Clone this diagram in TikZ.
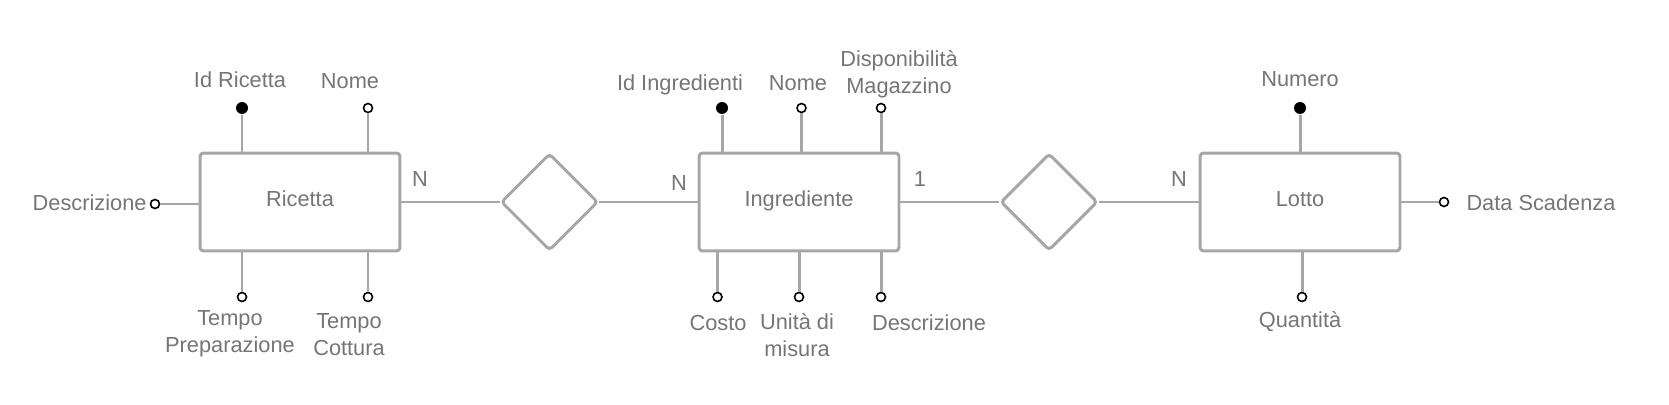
\documentclass[tikz,border=0pt]{standalone}
\usepackage{fontspec}
\setmainfont{Liberation Sans}
\usetikzlibrary{shapes.geometric}
\definecolor{linegray}{RGB}{166,166,166}
\definecolor{textgray}{RGB}{117,117,117}

\begin{document}
\begin{tikzpicture}[x=0.02cm, y=-0.02cm, line width=1.7pt,
  every edge/.style={draw=linegray, line width=1.7pt},
  entity/.style={draw=linegray, line width=1.7pt, rounded corners=2pt, minimum width=4cm, minimum height=1.96cm, text=textgray, text height=8.9pt, text depth=3.4pt, font=\fontsize{12.4}{15.3}\selectfont},
  relation/.style={draw=linegray, line width=1.7pt, diamond, aspect=1, minimum size=1.94cm, inner sep=0pt, rounded corners=2pt},
  key/.style={circle, fill=black, minimum size=0.24cm, inner sep=0pt},
  attr/.style={circle, draw=black, fill=white, line width=0.9pt, minimum size=0.18cm, inner sep=0pt},
  lbl/.style={text=textgray, align=center, inner sep=0pt, font=\fontsize{12.4}{15.3}\selectfont}]
  \useasboundingbox (0,0) rectangle (1669,405);
  \node[entity]   (ricetta) at (300,202) {Ricetta};
  \node[relation] (r1) at (549.5,202) {};
  \node[entity]   (ingrediente) at (799,202) {Ingrediente};
  \node[relation] (r2) at (1049,202) {};
  \node[entity]   (lotto) at (1300,202) {Lotto};
  \path[line width=1.7pt] (ricetta) edge (r1)
        (r1) edge (ingrediente)
        (ingrediente) edge (r2)
        (r2) edge (lotto);
  \node[lbl] (n1) at (420,179) {N};
  \node[lbl] (n2) at (679,183) {N};
  \node[lbl] (n3) at (920,179) {1};
  \node[lbl] (n4) at (1179,179) {N};

  \node[key]  (idr) at (242,108) {};
  \node[attr] (nomer) at (368,108) {};
  \node[attr] (descr) at (155,204) {};
  \node[attr] (tprep) at (242,297) {};
  \node[attr] (tcott) at (368,297) {};
  \path[line width=1.7pt] (idr) edge (idr |- ricetta.north)
        (nomer) edge (nomer |- ricetta.north)
        (descr) edge (descr -| ricetta.west)
        (tprep) edge (tprep |- ricetta.south)
        (tcott) edge (tcott |- ricetta.south);
  \node[lbl] (lidr) at (240,80) {Id Ricetta};
  \node[lbl] (lnomer) at (350,81) {Nome};
  \node[lbl, anchor=east] (ldescr) at (148,203) {Descrizione};
  \node[lbl] (ltprep) at (230,334) {Tempo\\Preparazione};
  \node[lbl] (ltcott) at (349,335) {Tempo\\Cottura};

  \node[key]  (idi) at (722,108) {};
  \node[attr] (nomei) at (801.5,108) {};
  \node[attr] (disp) at (881,108) {};
  \node[attr] (costo) at (717.5,297) {};
  \node[attr] (unita) at (799,297) {};
  \node[attr] (desci) at (881,297) {};
  \path[line width=1.7pt] (idi) edge (idi |- ingrediente.north)
        (nomei) edge (nomei |- ingrediente.north)
        (disp) edge (disp |- ingrediente.north)
        (costo) edge (costo |- ingrediente.south)
        (unita) edge (unita |- ingrediente.south)
        (desci) edge (desci |- ingrediente.south);
  \node[lbl] (lidi) at (680,85) {Id Ingredienti};
  \node[lbl] (lnomei) at (798,83) {Nome};
  \node[lbl] (ldisp) at (899,74.5) {Disponibilità\\Magazzino};
  \node[lbl] (lcosto) at (718,323) {Costo};
  \node[lbl] (lunita) at (797,335) {Unità di\\misura};
  \node[lbl] (ldesci) at (929,323) {Descrizione};

  \node[key]  (num) at (1300,108) {};
  \node[attr] (quant) at (1302,297) {};
  \node[attr] (scad) at (1444,202) {};
  \path[line width=1.7pt] (num) edge (num |- lotto.north)
        (quant) edge (quant |- lotto.south)
        (scad) edge (scad -| lotto.east);
  \node[lbl] (lnum) at (1300,79) {Numero};
  \node[lbl] (lquant) at (1300,322) {Quantità};
  \node[lbl, anchor=west] (lscad) at (1465,203) {Data Scadenza};
\end{tikzpicture}
\end{document}
